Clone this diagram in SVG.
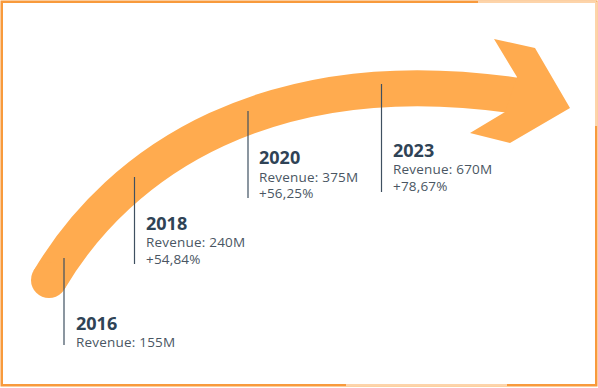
<svg xmlns="http://www.w3.org/2000/svg" width="598" height="388" viewBox="0 0 598 388">
<style>
.frame{fill:none;stroke:#F89A3C;stroke-width:2.5}
.light{stroke:#FDD4AA;stroke-width:2.5;fill:none}
.band{fill:none;stroke:#FFAB4F;stroke-width:36}
.arrow{fill:#FFAB4F}
.tick{stroke:#3F5061;stroke-width:1.2}
.year{font-family:"Open Sans",sans-serif;font-weight:700;font-size:18px;fill:#2F4356}
.info{font-family:"Open Sans",sans-serif;font-size:13.5px;letter-spacing:0.2px;fill:#4A5663}
</style>
<rect width="598" height="388" fill="#FFFFFF"/>
<g id="frame">
<rect class="frame" x="1.75" y="1.75" width="594.5" height="383.5"/>
<line class="light" x1="478" y1="1.75" x2="596.25" y2="1.75"/>
<line class="light" x1="596.25" y1="1.75" x2="596.25" y2="126"/>
<line class="light" x1="346" y1="385.25" x2="507" y2="385.25"/>
</g>
<g id="arrow">
<path class="band" d="M49,280 C120,160 270,60 515,95.5"/>
<circle class="arrow" cx="49" cy="280" r="18"/>
<polygon class="arrow" points="494,39 535,48 570,108 510,143 470,133 505,112 517,77"/>
</g>
<g id="connectors">
<line class="tick" x1="64" y1="258" x2="64" y2="345"/>
<line class="tick" x1="134.5" y1="177" x2="134.5" y2="264"/>
<line class="tick" x1="248" y1="111" x2="248" y2="198"/>
<line class="tick" x1="381.5" y1="84" x2="381.5" y2="192"/>
</g>
<g id="node-2016">
<text class="year" x="76" y="329.5">2016</text>
<text class="info" x="76" y="346.5">Revenue: 155M</text>
</g>
<g id="node-2018">
<text class="year" x="146" y="230">2018</text>
<text class="info" x="146" y="247">Revenue: 240M</text>
<text class="info" x="146" y="264">+54,84%</text>
</g>
<g id="node-2020">
<text class="year" x="259" y="164">2020</text>
<text class="info" x="259" y="181.5">Revenue: 375M</text>
<text class="info" x="259" y="198">+56,25%</text>
</g>
<g id="node-2023">
<text class="year" x="393" y="157">2023</text>
<text class="info" x="393" y="174">Revenue: 670M</text>
<text class="info" x="393" y="190.5">+78,67%</text>
</g>
</svg>
